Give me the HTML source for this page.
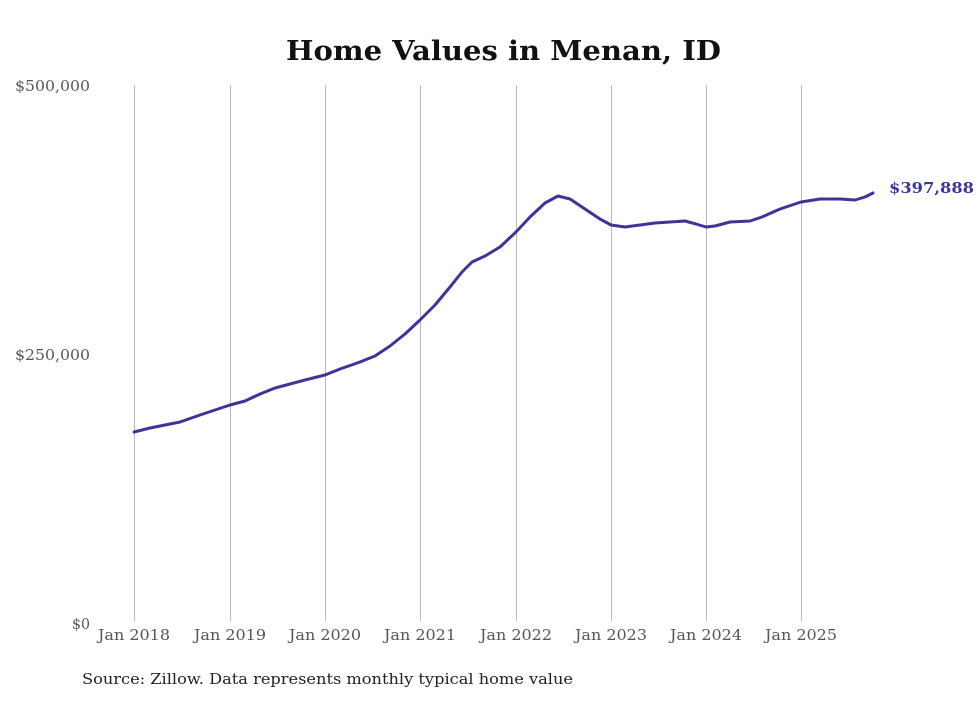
<!DOCTYPE html>
<html><head><meta charset="utf-8"><style>
body{margin:0;background:#fff;}
svg text{font-family:"DejaVu Serif","Liberation Serif",serif;}
</style></head><body>
<svg width="980" height="699" viewBox="0 0 980 699" xmlns="http://www.w3.org/2000/svg">
<rect width="980" height="699" fill="#fff"/>
<text x="286" y="60" textLength="435" lengthAdjust="spacingAndGlyphs" font-size="27" font-weight="bold" fill="#111">Home Values in Menan, ID</text>
<g stroke="#bbb" stroke-width="1">
<line x1="134.5" y1="85" x2="134.5" y2="621"/>
<line x1="230.5" y1="85" x2="230.5" y2="621"/>
<line x1="325.5" y1="85" x2="325.5" y2="621"/>
<line x1="420.5" y1="85" x2="420.5" y2="621"/>
<line x1="516.5" y1="85" x2="516.5" y2="621"/>
<line x1="611.5" y1="85" x2="611.5" y2="621"/>
<line x1="706.5" y1="85" x2="706.5" y2="621"/>
<line x1="801.5" y1="85" x2="801.5" y2="621"/>
</g>
<g font-size="15" fill="#555">
<text x="15" y="91" textLength="75" lengthAdjust="spacingAndGlyphs">$500,000</text>
<text x="15" y="360" textLength="75" lengthAdjust="spacingAndGlyphs">$250,000</text>
<text x="72" y="629" textLength="18" lengthAdjust="spacingAndGlyphs">$0</text>
</g>
<g font-size="15" fill="#555">
<text x="98" y="640" textLength="72" lengthAdjust="spacingAndGlyphs">Jan 2018</text>
<text x="194" y="640" textLength="72" lengthAdjust="spacingAndGlyphs">Jan 2019</text>
<text x="289" y="640" textLength="72" lengthAdjust="spacingAndGlyphs">Jan 2020</text>
<text x="384" y="640" textLength="72" lengthAdjust="spacingAndGlyphs">Jan 2021</text>
<text x="480" y="640" textLength="72" lengthAdjust="spacingAndGlyphs">Jan 2022</text>
<text x="575" y="640" textLength="72" lengthAdjust="spacingAndGlyphs">Jan 2023</text>
<text x="670" y="640" textLength="72" lengthAdjust="spacingAndGlyphs">Jan 2024</text>
<text x="765" y="640" textLength="72" lengthAdjust="spacingAndGlyphs">Jan 2025</text>
</g>
<polyline fill="none" stroke="#3d3596" stroke-width="3" stroke-linejoin="round" stroke-linecap="round"
points="134,432 150,428 165,425 180,422 200,415 215,410 230,405 245,401 260,394 275,388 290,384 305,380 325,375 340,369 360,362 375,356 390,346 405,334 420,320 435,305 450,287 462,272 472,262 485,256 500,247 516,232 530,217 545,203 558,196 570,199 585,209 600,219 611,225 625,227 640,225 655,223 670,222 685,221 696,224 706,227 715,226 730,222 750,221 762,217 780,209 801,202 820,199 840,199 855,200 865,197 873,193"/>
<text x="889" y="193" font-size="15" font-weight="bold" fill="#3d3596" textLength="85" lengthAdjust="spacingAndGlyphs">$397,888</text>
<text x="82" y="684" font-size="15" fill="#222" textLength="491" lengthAdjust="spacingAndGlyphs">Source: Zillow. Data represents monthly typical home value</text>
</svg>
</body></html>
